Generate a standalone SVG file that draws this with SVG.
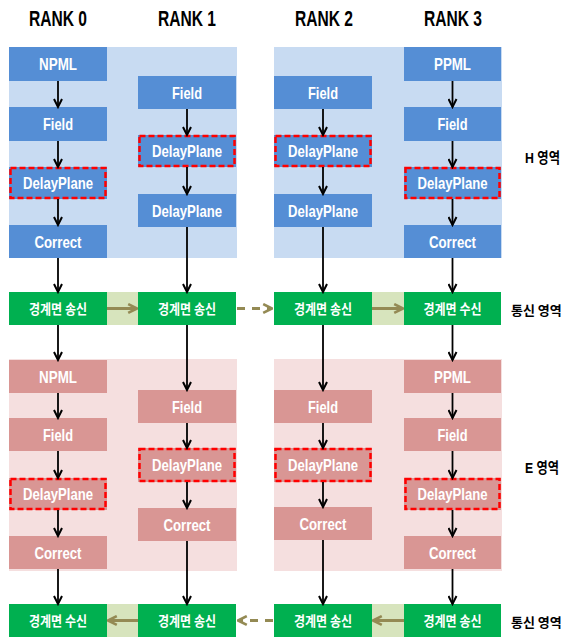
<svg xmlns="http://www.w3.org/2000/svg" width="567" height="638" viewBox="0 0 567 638">
<style>
.bp{fill:#c8dbf2}
.pp{fill:#f5dfdf}
.band{fill:#d7e4bd}
.b{fill:#558ed5}
.p{fill:#d99694}
.g{fill:#00b050}
.dash{fill:none;stroke:#ff0000;stroke-width:2.5;stroke-dasharray:6 3}
.t{font-family:"Liberation Sans",Arial,sans-serif;font-weight:bold;font-size:16.5px;fill:#ffffff;text-anchor:middle}
.k{font-family:"Noto Sans CJK KR",sans-serif;font-weight:bold;font-size:13.5px;fill:#ffffff;text-anchor:middle}
.rank{font-family:"Liberation Sans",Arial,sans-serif;font-weight:bold;font-size:22px;fill:#000;text-anchor:middle}
.side{font-family:"Liberation Sans","Noto Sans CJK KR",sans-serif;font-weight:bold;font-size:15px;fill:#000}
.comm{font-family:"Noto Sans CJK KR",sans-serif;font-weight:bold;font-size:13px;fill:#000}
.v{stroke:#000;stroke-width:1.8;fill:none;marker-end:url(#ah)}
.h{stroke:#948a54;stroke-width:3;fill:none;marker-end:url(#oh)}
.hd{stroke:#948a54;stroke-width:3;fill:none;stroke-dasharray:8 7;marker-end:url(#oh)}
</style>
<defs>
<marker id="ah" viewBox="0 0 10 10" refX="9" refY="5" markerWidth="11" markerHeight="10" markerUnits="userSpaceOnUse" orient="auto">
<path d="M1,1 L9,5 L1,9" fill="none" stroke="#000" stroke-width="2"/>
</marker>
<marker id="oh" viewBox="0 0 10 10" refX="9" refY="5" markerWidth="11" markerHeight="12" markerUnits="userSpaceOnUse" orient="auto">
<path d="M1,1 L9,5 L1,9" fill="none" stroke="#948a54" stroke-width="2.4"/>
</marker>
</defs>
<rect width="567" height="638" fill="#ffffff"/>

<g id="labels">
<text class="rank" x="58" y="26" textLength="58" lengthAdjust="spacingAndGlyphs">RANK 0</text>
<text class="rank" x="187" y="26" textLength="58" lengthAdjust="spacingAndGlyphs">RANK 1</text>
<text class="rank" x="324" y="26" textLength="58" lengthAdjust="spacingAndGlyphs">RANK 2</text>
<text class="rank" x="453" y="26" textLength="58" lengthAdjust="spacingAndGlyphs">RANK 3</text>
<text class="side" x="525" y="163" textLength="35" lengthAdjust="spacingAndGlyphs">H 영역</text>
<text class="comm" x="511" y="315">통신 영역</text>
<text class="side" x="525" y="473" textLength="34" lengthAdjust="spacingAndGlyphs">E 영역</text>
<text class="comm" x="511" y="627">통신 영역</text>
</g>

<g id="panels">
<rect class="bp" x="9" y="47" width="228" height="211"/>
<rect class="bp" x="274" y="47" width="228" height="211"/>
<rect class="pp" x="9" y="359" width="228" height="212"/>
<rect class="pp" x="274" y="359" width="228" height="212"/>
<rect class="band" x="107" y="292" width="31" height="33"/>
<rect class="band" x="372" y="292" width="32" height="33"/>
<rect class="band" x="107" y="604" width="31" height="33"/>
<rect class="band" x="372" y="604" width="32" height="33"/>
</g>

<!-- H region -->
<g id="h0-npml"><rect class="b" x="9" y="47" width="98" height="34"/><text class="t" x="58" y="70" textLength="38" lengthAdjust="spacingAndGlyphs">NPML</text></g>
<g id="h0-field"><rect class="b" x="9" y="107" width="98" height="34"/><text class="t" x="58" y="130" textLength="30" lengthAdjust="spacingAndGlyphs">Field</text></g>
<g id="h0-delay"><rect class="b" x="9" y="167" width="98" height="32"/><rect class="dash" x="10.5" y="168" width="95" height="30"/><text class="t" x="58" y="189" textLength="70" lengthAdjust="spacingAndGlyphs">DelayPlane</text></g>
<g id="h0-correct"><rect class="b" x="9" y="225" width="98" height="33"/><text class="t" x="58" y="247.5" textLength="47" lengthAdjust="spacingAndGlyphs">Correct</text></g>

<g id="h1-field"><rect class="b" x="138" y="76" width="98" height="33"/><text class="t" x="187" y="98.5" textLength="30" lengthAdjust="spacingAndGlyphs">Field</text></g>
<g id="h1-delay"><rect class="b" x="138" y="135" width="98" height="32"/><rect class="dash" x="139.5" y="136" width="95" height="30"/><text class="t" x="187" y="157" textLength="70" lengthAdjust="spacingAndGlyphs">DelayPlane</text></g>
<g id="h1-delay2"><rect class="b" x="138" y="194" width="98" height="33"/><text class="t" x="187" y="216.5" textLength="70" lengthAdjust="spacingAndGlyphs">DelayPlane</text></g>

<g id="h2-field"><rect class="b" x="274" y="76" width="98" height="33"/><text class="t" x="323" y="98.5" textLength="30" lengthAdjust="spacingAndGlyphs">Field</text></g>
<g id="h2-delay"><rect class="b" x="274" y="135" width="98" height="32"/><rect class="dash" x="275.5" y="136" width="95" height="30"/><text class="t" x="323" y="157" textLength="70" lengthAdjust="spacingAndGlyphs">DelayPlane</text></g>
<g id="h2-delay2"><rect class="b" x="274" y="194" width="98" height="33"/><text class="t" x="323" y="216.5" textLength="70" lengthAdjust="spacingAndGlyphs">DelayPlane</text></g>

<g id="h3-ppml"><rect class="b" x="404" y="47" width="97" height="34"/><text class="t" x="452.5" y="70" textLength="37" lengthAdjust="spacingAndGlyphs">PPML</text></g>
<g id="h3-field"><rect class="b" x="404" y="107" width="97" height="34"/><text class="t" x="452.5" y="130" textLength="30" lengthAdjust="spacingAndGlyphs">Field</text></g>
<g id="h3-delay"><rect class="b" x="404" y="167" width="97" height="32"/><rect class="dash" x="405.5" y="168" width="94" height="30"/><text class="t" x="452.5" y="189" textLength="70" lengthAdjust="spacingAndGlyphs">DelayPlane</text></g>
<g id="h3-correct"><rect class="b" x="404" y="225" width="97" height="33"/><text class="t" x="452.5" y="247.5" textLength="47" lengthAdjust="spacingAndGlyphs">Correct</text></g>

<!-- comm row 1 -->
<g id="c1-0"><rect class="g" x="9" y="292" width="98" height="33"/><text class="k" x="58" y="313.5" textLength="58" lengthAdjust="spacingAndGlyphs">경계면 송신</text></g>
<g id="c1-1"><rect class="g" x="138" y="292" width="98" height="33"/><text class="k" x="187" y="313.5" textLength="58" lengthAdjust="spacingAndGlyphs">경계면 송신</text></g>
<g id="c1-2"><rect class="g" x="274" y="292" width="98" height="33"/><text class="k" x="323" y="313.5" textLength="58" lengthAdjust="spacingAndGlyphs">경계면 송신</text></g>
<g id="c1-3"><rect class="g" x="404" y="292" width="97" height="33"/><text class="k" x="452.5" y="313.5" textLength="58" lengthAdjust="spacingAndGlyphs">경계면 수신</text></g>

<!-- E region -->
<g id="e0-npml"><rect class="p" x="9" y="360" width="98" height="33"/><text class="t" x="58" y="382.5" textLength="38" lengthAdjust="spacingAndGlyphs">NPML</text></g>
<g id="e0-field"><rect class="p" x="9" y="418" width="98" height="33"/><text class="t" x="58" y="440.5" textLength="30" lengthAdjust="spacingAndGlyphs">Field</text></g>
<g id="e0-delay"><rect class="p" x="9" y="478" width="98" height="32"/><rect class="dash" x="10.5" y="479" width="95" height="30"/><text class="t" x="58" y="500" textLength="70" lengthAdjust="spacingAndGlyphs">DelayPlane</text></g>
<g id="e0-correct"><rect class="p" x="9" y="536" width="98" height="33"/><text class="t" x="58" y="558.5" textLength="47" lengthAdjust="spacingAndGlyphs">Correct</text></g>

<g id="e1-field"><rect class="p" x="138" y="390" width="98" height="33"/><text class="t" x="187" y="412.5" textLength="30" lengthAdjust="spacingAndGlyphs">Field</text></g>
<g id="e1-delay"><rect class="p" x="138" y="448" width="98" height="34"/><rect class="dash" x="139.5" y="449" width="95" height="32"/><text class="t" x="187" y="471" textLength="70" lengthAdjust="spacingAndGlyphs">DelayPlane</text></g>
<g id="e1-correct"><rect class="p" x="138" y="508" width="98" height="33"/><text class="t" x="187" y="530.5" textLength="47" lengthAdjust="spacingAndGlyphs">Correct</text></g>

<g id="e2-field"><rect class="p" x="274" y="390" width="98" height="33"/><text class="t" x="323" y="412.5" textLength="30" lengthAdjust="spacingAndGlyphs">Field</text></g>
<g id="e2-delay"><rect class="p" x="274" y="448" width="98" height="34"/><rect class="dash" x="275.5" y="449" width="95" height="32"/><text class="t" x="323" y="471" textLength="70" lengthAdjust="spacingAndGlyphs">DelayPlane</text></g>
<g id="e2-correct"><rect class="p" x="274" y="507" width="98" height="33"/><text class="t" x="323" y="529.5" textLength="47" lengthAdjust="spacingAndGlyphs">Correct</text></g>

<g id="e3-ppml"><rect class="p" x="404" y="360" width="97" height="33"/><text class="t" x="452.5" y="382.5" textLength="37" lengthAdjust="spacingAndGlyphs">PPML</text></g>
<g id="e3-field"><rect class="p" x="404" y="418" width="97" height="33"/><text class="t" x="452.5" y="440.5" textLength="30" lengthAdjust="spacingAndGlyphs">Field</text></g>
<g id="e3-delay"><rect class="p" x="404" y="478" width="97" height="32"/><rect class="dash" x="405.5" y="479" width="94" height="30"/><text class="t" x="452.5" y="500" textLength="70" lengthAdjust="spacingAndGlyphs">DelayPlane</text></g>
<g id="e3-correct"><rect class="p" x="404" y="536" width="97" height="33"/><text class="t" x="452.5" y="558.5" textLength="47" lengthAdjust="spacingAndGlyphs">Correct</text></g>

<!-- comm row 2 -->
<g id="c2-0"><rect class="g" x="9" y="604" width="98" height="33"/><text class="k" x="58" y="625.5" textLength="58" lengthAdjust="spacingAndGlyphs">경계면 수신</text></g>
<g id="c2-1"><rect class="g" x="138" y="604" width="98" height="33"/><text class="k" x="187" y="625.5" textLength="58" lengthAdjust="spacingAndGlyphs">경계면 송신</text></g>
<g id="c2-2"><rect class="g" x="274" y="604" width="98" height="33"/><text class="k" x="323" y="625.5" textLength="58" lengthAdjust="spacingAndGlyphs">경계면 송신</text></g>
<g id="c2-3"><rect class="g" x="404" y="604" width="97" height="33"/><text class="k" x="452.5" y="625.5" textLength="58" lengthAdjust="spacingAndGlyphs">경계면 송신</text></g>

<g id="connectors">
<!-- rank 0 -->
<line class="v" x1="58" y1="81" x2="58" y2="107"/>
<line class="v" x1="58" y1="141" x2="58" y2="167"/>
<line class="v" x1="58" y1="199" x2="58" y2="225"/>
<line class="v" x1="58" y1="258" x2="58" y2="292"/>
<line class="v" x1="58" y1="325" x2="58" y2="360"/>
<line class="v" x1="58" y1="393" x2="58" y2="418"/>
<line class="v" x1="58" y1="451" x2="58" y2="478"/>
<line class="v" x1="58" y1="510" x2="58" y2="536"/>
<line class="v" x1="58" y1="569" x2="58" y2="604"/>
<!-- rank 1 -->
<line class="v" x1="187" y1="109" x2="187" y2="135"/>
<line class="v" x1="187" y1="167" x2="187" y2="194"/>
<line class="v" x1="187" y1="227" x2="187" y2="292"/>
<line class="v" x1="187" y1="325" x2="187" y2="390"/>
<line class="v" x1="187" y1="423" x2="187" y2="448"/>
<line class="v" x1="187" y1="482" x2="187" y2="508"/>
<line class="v" x1="187" y1="541" x2="187" y2="604"/>
<!-- rank 2 -->
<line class="v" x1="323" y1="109" x2="323" y2="135"/>
<line class="v" x1="323" y1="167" x2="323" y2="194"/>
<line class="v" x1="323" y1="227" x2="323" y2="292"/>
<line class="v" x1="323" y1="325" x2="323" y2="390"/>
<line class="v" x1="323" y1="423" x2="323" y2="448"/>
<line class="v" x1="323" y1="482" x2="323" y2="507"/>
<line class="v" x1="323" y1="540" x2="323" y2="604"/>
<!-- rank 3 -->
<line class="v" x1="452.5" y1="81" x2="452.5" y2="107"/>
<line class="v" x1="452.5" y1="141" x2="452.5" y2="167"/>
<line class="v" x1="452.5" y1="199" x2="452.5" y2="225"/>
<line class="v" x1="452.5" y1="258" x2="452.5" y2="292"/>
<line class="v" x1="452.5" y1="325" x2="452.5" y2="360"/>
<line class="v" x1="452.5" y1="393" x2="452.5" y2="418"/>
<line class="v" x1="452.5" y1="451" x2="452.5" y2="478"/>
<line class="v" x1="452.5" y1="510" x2="452.5" y2="536"/>
<line class="v" x1="452.5" y1="569" x2="452.5" y2="604"/>
<!-- horizontal -->
<line class="h" x1="107" y1="308.5" x2="137" y2="308.5"/>
<line class="hd" x1="237" y1="308.5" x2="272" y2="308.5"/>
<line class="h" x1="372" y1="308.5" x2="403" y2="308.5"/>
<line class="h" x1="138" y1="620.5" x2="108" y2="620.5"/>
<line class="hd" x1="273" y1="620.5" x2="238" y2="620.5"/>
<line class="h" x1="404" y1="620.5" x2="373" y2="620.5"/>
</g>
</svg>
